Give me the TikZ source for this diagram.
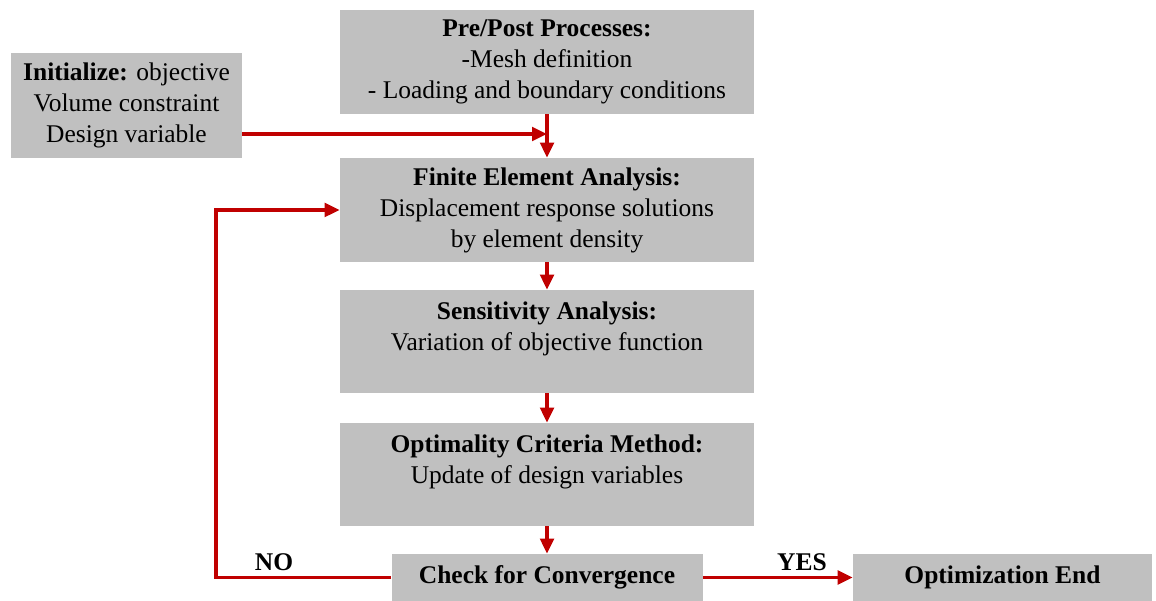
\documentclass[tikz,border=0pt]{standalone}
\usepackage{fontspec}
\setmainfont{Liberation Serif}
\usetikzlibrary{arrows.meta,calc}

\definecolor{boxgray}{RGB}{192,192,192}
\definecolor{flowred}{RGB}{192,0,0}

\tikzset{
  txt/.style={font=\fontsize{14.5}{17.6}\selectfont},
  box/.style={txt, fill=boxgray, align=center, inner sep=0pt},
  flow/.style={line width=0.07cm, flowred, -{Triangle[length=0.3cm,width=0.27cm]}},
  lbl/.style={font=\fontsize{14.5}{17.6}\selectfont\bfseries, anchor=base},
}

\begin{document}
\begin{tikzpicture}
  \useasboundingbox (0,0) rectangle (23.12,12.02);

  % start values
  \node[box, minimum width=4.62cm, minimum height=2.10cm] (init) at (2.53,9.91)
    {\textbf{Initialize:} objective\\Volume constraint\\Design variable};

  % main column
  \node[box, minimum width=8.28cm, minimum height=2.08cm] (pre) at (10.94,10.78)
    {\textbf{Pre/Post Processes:}\\-Mesh definition\\- Loading and boundary conditions};
  \node[box, minimum width=8.28cm, minimum height=2.08cm] (fea) at (10.94,7.82)
    {\textbf{Finite Element Analysis:}\\Displacement response solutions\\by element density};
  \node[box, minimum width=8.28cm, minimum height=2.06cm] (sens) at (10.94,5.19)
    {\textbf{Sensitivity Analysis:}\\Variation of objective function\\~};
  \node[box, minimum width=8.28cm, minimum height=2.06cm] (opt) at (10.94,2.53)
    {\textbf{Optimality Criteria Method:}\\Update of design variables\\~};

  % bottom row
  \node[box, minimum width=6.22cm, minimum height=0.94cm] (check) at (10.94,0.47)
    {\textbf{Check for Convergence}};
  \node[box, minimum width=5.98cm, minimum height=0.94cm] (end) at (20.05,0.47)
    {\textbf{Optimization End}};

  % arrows
  \coordinate (initout) at ($(init.south east)!0.23!(init.north east)$);
  \draw[flow] (initout) -- (initout -| pre.south);
  \draw[flow] (pre.south) -- (fea.north);
  \draw[flow] (fea.south) -- (sens.north);
  \draw[flow] (sens.south) -- (opt.north);
  \draw[flow] (opt.south) -- (check.north);

  \coordinate (back) at (4.32,0.44);
  \draw[flow] (check.west) -- (check.west -| back) |- (fea.west);
  \draw[flow] (check.east) -- (end.west);

  \node[lbl] (no) at (5.48,0.60) {NO};
  \node[lbl] (yes) at (16.04,0.60) {YES};
\end{tikzpicture}
\end{document}
